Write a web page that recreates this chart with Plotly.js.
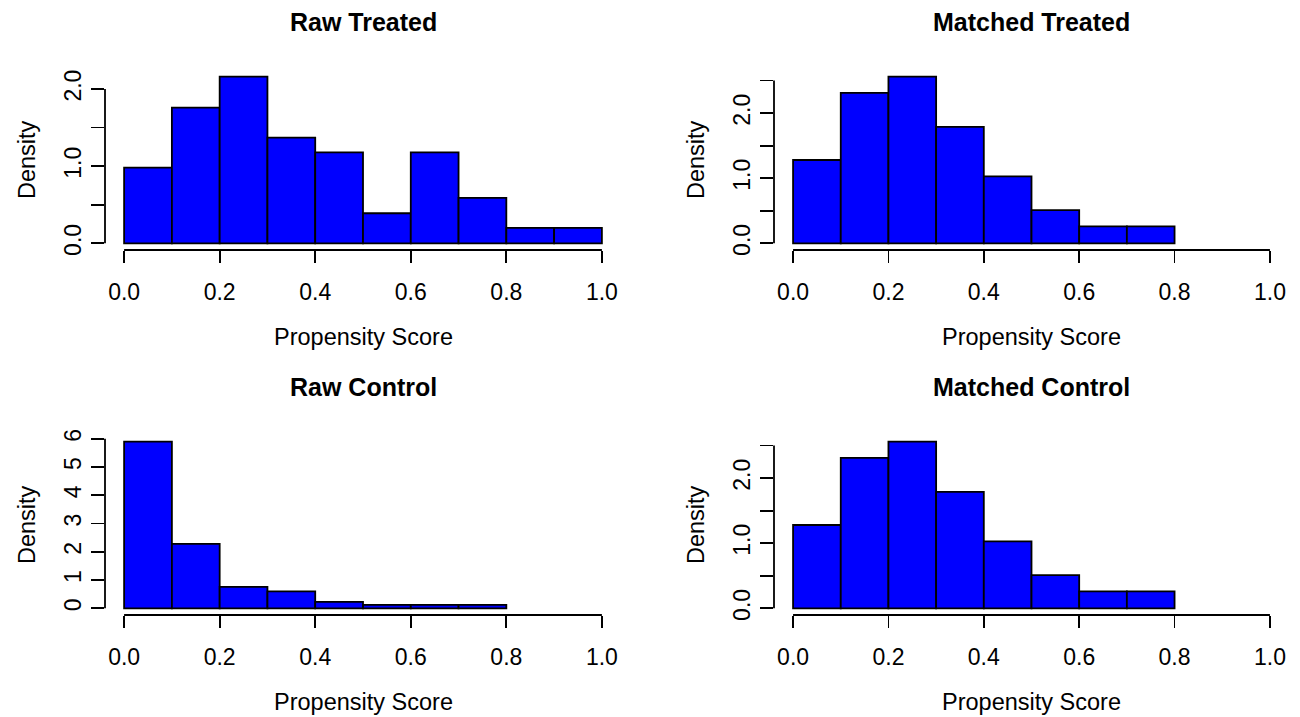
<!DOCTYPE html>
<html>
<head>
<meta charset="utf-8">
<script src="https://cdn.plot.ly/plotly-3.0.1.min.js"></script>
<style>html,body{margin:0;padding:0;background:#fff;}#chart{width:1300px;height:717px;}</style>
</head>
<body>
<div id="chart"></div>
<script>
// Histogram bin edges (propensity score) and densities
const breaks = [0.0, 0.1, 0.2, 0.3, 0.4, 0.5, 0.6, 0.7, 0.8, 0.9, 1.0];
const rawTreated     = [0.98, 1.76, 2.16, 1.37, 1.18, 0.39, 1.18, 0.59, 0.20, 0.20];
const matchedTreated = [1.28, 2.31, 2.56, 1.79, 1.03, 0.51, 0.26, 0.26];
const rawControl     = [5.90, 2.28, 0.76, 0.60, 0.23, 0.12, 0.12, 0.12];
const matchedControl = [1.28, 2.31, 2.56, 1.79, 1.03, 0.51, 0.26, 0.26];

const panelTitles = ["Raw Treated", "Matched Treated", "Raw Control", "Matched Control"];
const xLabel = "Propensity Score";
const yLabel = "Density";

const xTickVals = [0.0, 0.2, 0.4, 0.6, 0.8, 1.0];
const xTickText = ["0.0", "0.2", "0.4", "0.6", "0.8", "1.0"];
const yTicksHalf = [0.0, 0.5, 1.0, 1.5, 2.0];
const yTextHalf  = ["0.0", "", "1.0", "", "2.0"];
const yTicksHalf2 = [0.0, 0.5, 1.0, 1.5, 2.0, 2.5];
const yTextHalf2  = ["0.0", "", "1.0", "", "2.0", ""];
const yTicksInt = [0, 1, 2, 3, 4, 5, 6];
const yTextInt  = ["0", "1", "2", "3", "4", "5", "6"];

const panels = [
  {data: rawTreated,     title: panelTitles[0], yt: yTicksHalf,  ytt: yTextHalf},
  {data: matchedTreated, title: panelTitles[1], yt: yTicksHalf2, ytt: yTextHalf2},
  {data: rawControl,     title: panelTitles[2], yt: yTicksInt,   ytt: yTextInt},
  {data: matchedControl, title: panelTitles[3], yt: yTicksHalf2, ytt: yTextHalf2}
];

const W = 1300, H = 717;
const xDomains = [[105 / W, 621 / W], [774 / W, 1289 / W]];
const yDomains = [[1 - 250 / H, 1 - 70 / H], [1 - 615 / H, 1 - 435 / H]];

const FONT = "Liberation Sans, Arial, Helvetica, sans-serif";
const traces = [];
const layout = {
  width: W, height: H,
  margin: {l: 0, r: 0, t: 0, b: 0},
  paper_bgcolor: "#ffffff", plot_bgcolor: "#ffffff",
  showlegend: false,
  font: {family: FONT, color: "#000000", size: 23},
  shapes: [], annotations: []
};

panels.forEach((p, i) => {
  const n = i + 1;
  const xa = n === 1 ? "x" : "x" + n;
  const ya = n === 1 ? "y" : "y" + n;
  const xKey = n === 1 ? "xaxis" : "xaxis" + n;
  const yKey = n === 1 ? "yaxis" : "yaxis" + n;
  const col = i % 2, row = Math.floor(i / 2);
  const mids = p.data.map((_, k) => (breaks[k] + breaks[k + 1]) / 2);
  const widths = p.data.map((_, k) => breaks[k + 1] - breaks[k]);
  traces.push({
    type: "bar", x: mids, y: p.data, width: widths,
    xaxis: xa, yaxis: ya,
    marker: {color: "#0000ff", line: {color: "#000000", width: 1.8}},
    hoverinfo: "x+y"
  });
  const xmin = breaks[0], xmax = breaks[breaks.length - 1];
  const ymax = Math.max(...p.data);
  layout[xKey] = {
    domain: xDomains[col], anchor: ya,
    range: [xmin - 0.04 * (xmax - xmin), xmax + 0.04 * (xmax - xmin)],
    showgrid: false, zeroline: false, showline: false,
    tickmode: "array", tickvals: xTickVals, ticktext: xTickText,
    ticks: "outside", ticklen: 12, tickwidth: 1.8, tickcolor: "#000000",
    ticklabelstandoff: 9,
    tickfont: {family: FONT, size: 23, color: "#000000"},
    fixedrange: true
  };
  layout[yKey] = {
    domain: yDomains[row], anchor: xa,
    range: [-0.04 * ymax, 1.04 * ymax],
    showgrid: false, zeroline: false, showline: false,
    tickmode: "array", tickvals: p.yt, ticktext: p.ytt,
    ticks: "outside", ticklen: 13, tickwidth: 1.8, tickcolor: "#000000",
    tickangle: -90, ticklabelstandoff: 1,
    tickfont: {family: FONT, size: 23, color: "#000000"},
    fixedrange: true
  };
  // R-style axis lines spanning first to last tick
  layout.shapes.push({
    type: "line", xref: xa, yref: ya + " domain",
    x0: xTickVals[0], x1: xTickVals[xTickVals.length - 1], y0: 0, y1: 0,
    line: {color: "#000000", width: 1.8}
  });
  layout.shapes.push({
    type: "line", xref: xa + " domain", yref: ya,
    x0: 0, x1: 0, y0: p.yt[0], y1: p.yt[p.yt.length - 1],
    line: {color: "#000000", width: 1.8}
  });
  // panel title
  layout.annotations.push({
    text: "<b>" + p.title + "</b>", showarrow: false,
    xref: xa + " domain", yref: ya + " domain", x: 0.5, y: 1,
    xanchor: "center", yanchor: "middle", yshift: 48,
    font: {family: FONT, size: 25, color: "#000000"}
  });
  // x axis title
  layout.annotations.push({
    text: xLabel, showarrow: false,
    xref: xa + " domain", yref: ya + " domain", x: 0.5, y: 0,
    xanchor: "center", yanchor: "middle", yshift: -87,
    font: {family: FONT, size: 23.5, color: "#000000"}
  });
  // y axis title
  layout.annotations.push({
    text: yLabel, showarrow: false, textangle: -90,
    xref: xa + " domain", yref: ya + " domain", x: 0, y: 0.5,
    xanchor: "center", yanchor: "middle", xshift: -78,
    font: {family: FONT, size: 23.5, color: "#000000"}
  });
});

Plotly.newPlot("chart", traces, layout, {staticPlot: true, displayModeBar: false});
</script>
</body>
</html>
